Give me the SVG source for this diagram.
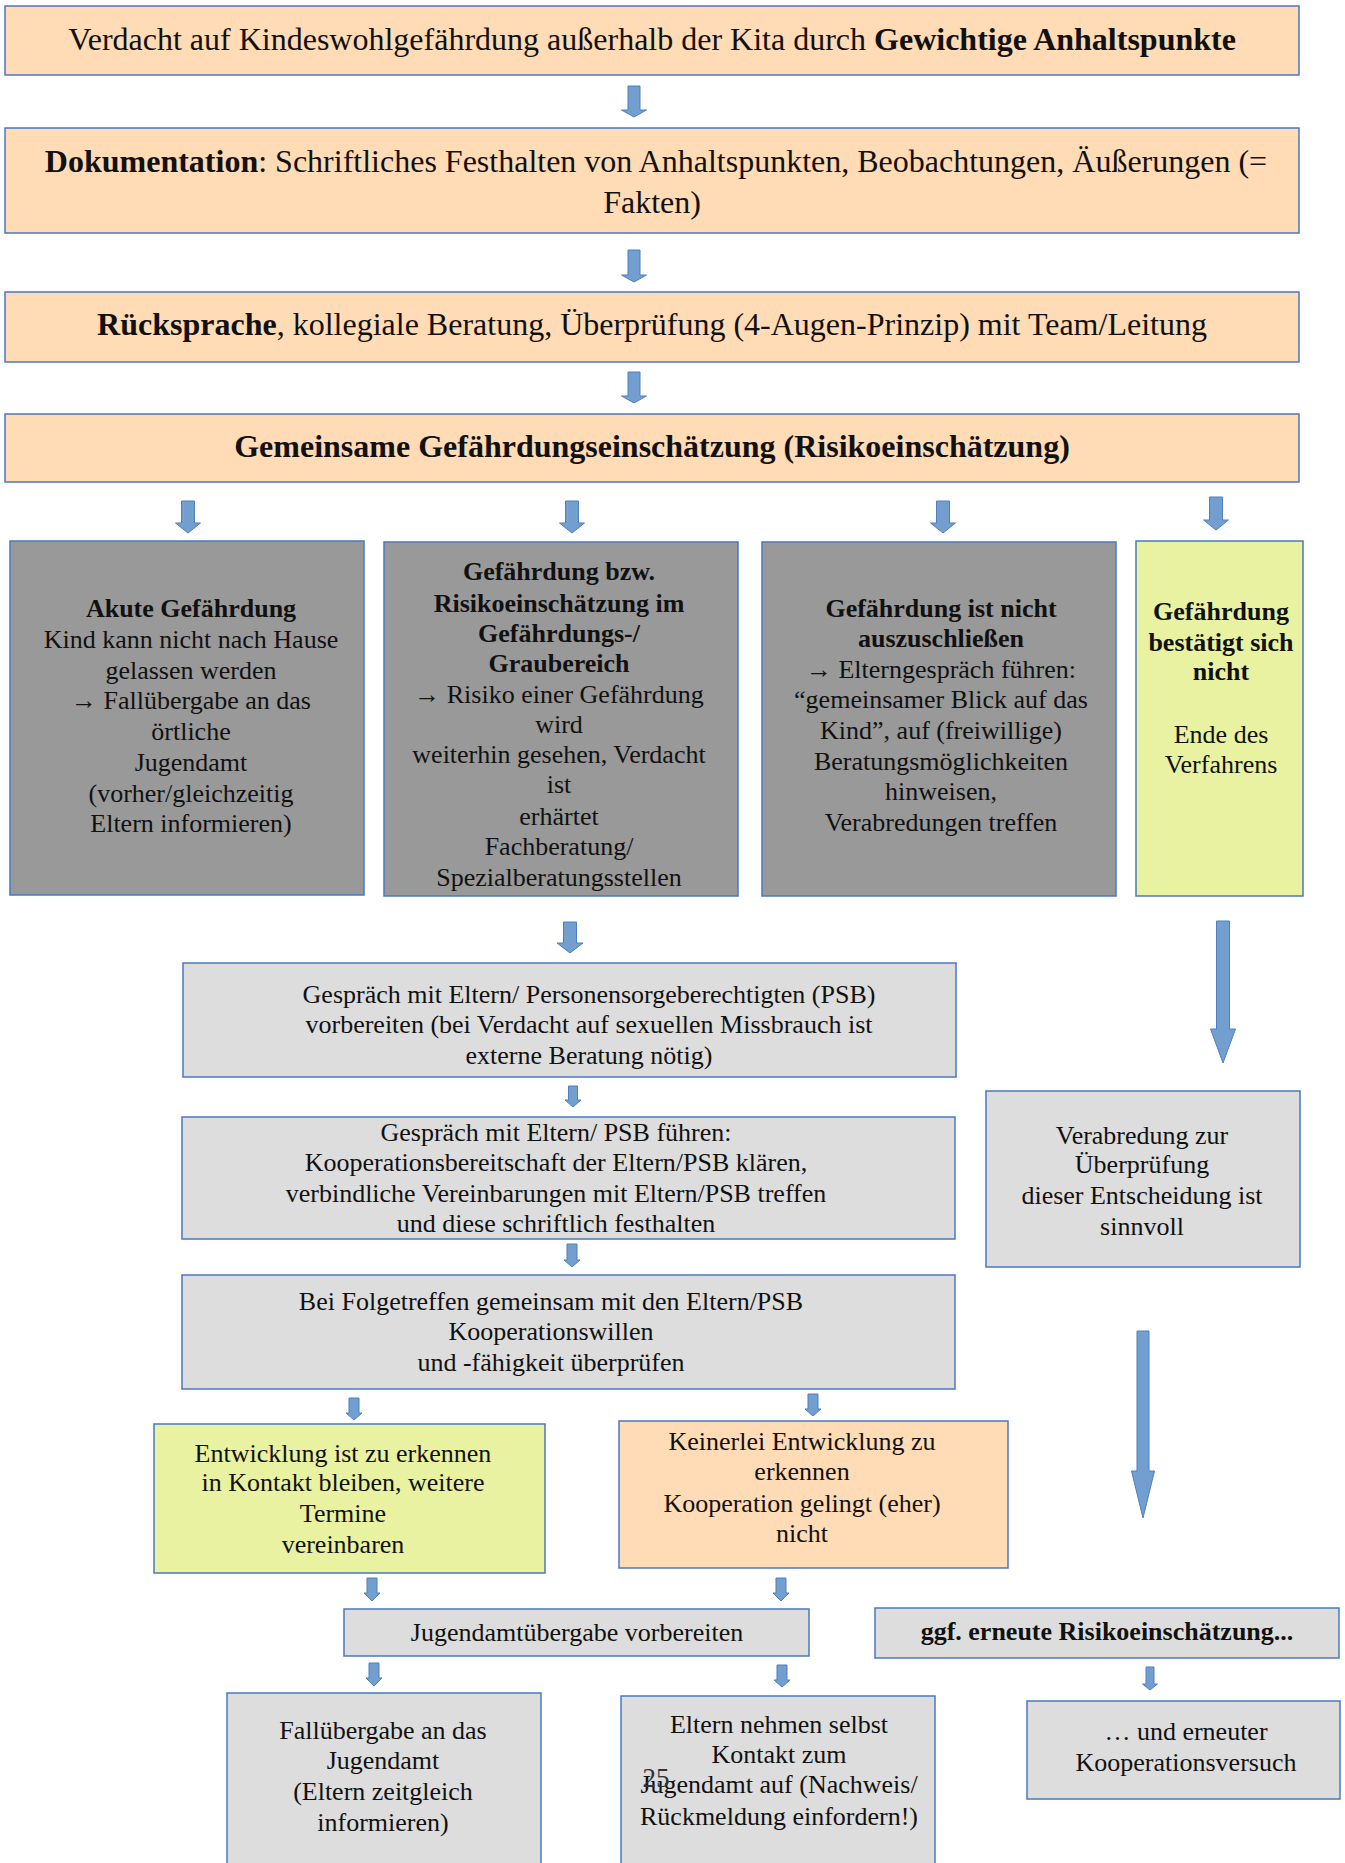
<svg xmlns="http://www.w3.org/2000/svg" width="1345" height="1863" viewBox="0 0 1345 1863">
<style>
.box{stroke:#4a78c0;stroke-width:1.5}
.o{fill:#ffdbb6}
.g{fill:#999999}
.l{fill:#dddddd}
.y{fill:#e8f2a1}
.arr{fill:#729fcf;stroke:#4f7fbf;stroke-width:1}
text{font-family:"Liberation Serif","Times New Roman",serif;font-size:26px;fill:#111;text-anchor:middle}
.big{font-size:32px}
.b{font-weight:bold}
</style>
<rect x="0" y="0" width="1345" height="1863" fill="#ffffff"/>

<g id="connectors">
<path class="arr" d="M628 86H640V110H646.5L634 117L621.5 110H628Z"/>
<path class="arr" d="M628 250H640V275H646.5L634 282L621.5 275H628Z"/>
<path class="arr" d="M628 372H640V396H646.5L634 403L621.5 396H628Z"/>
<path class="arr" d="M181.5 501H194.5V523H200.5L188 533L175.5 523H181.5Z"/>
<path class="arr" d="M565.5 501H578.5V523H584.5L572 533L559.5 523H565.5Z"/>
<path class="arr" d="M936.5 501H949.5V523H955.5L943 533L930.5 523H936.5Z"/>
<path class="arr" d="M1209.5 497H1222.5V520H1228.5L1216 530L1203.5 520H1209.5Z"/>
<path class="arr" d="M563.5 922H576.5V943H583L570 953L557 943H563.5Z"/>
<path class="arr" d="M568.5 1086H577.5V1100H581L573 1107L565 1100H568.5Z"/>
<path class="arr" d="M567 1244H577V1260H580L572 1267L564 1260H567Z"/>
<path class="arr" d="M349 1398H359V1413H362L354 1420L346 1413H349Z"/>
<path class="arr" d="M808 1394H818V1409H821L813 1416L805 1409H808Z"/>
<path class="arr" d="M367 1578H377V1593H380L372 1601L364 1593H367Z"/>
<path class="arr" d="M776 1578H786V1593H789L781 1601L773 1593H776Z"/>
<path class="arr" d="M369 1663H379V1678H382L374 1686L366 1678H369Z"/>
<path class="arr" d="M777 1665H787V1680H790L782 1687L774 1680H777Z"/>
<path class="arr" d="M1146 1667H1154V1684H1157.5L1150 1690L1142.5 1684H1146Z"/>
<path class="arr" d="M1216.5 921H1229.5V1029H1235.5L1223 1063L1210.5 1029H1216.5Z"/>
<path class="arr" d="M1137 1331H1149V1471H1154.5L1143 1518L1131.5 1471H1137Z"/>
</g>

<g id="n1">
<rect class="box o" x="5" y="6" width="1294" height="69"/>
<text class="big" x="652" y="50">Verdacht auf Kindeswohlgefährdung außerhalb der Kita durch <tspan class="b">Gewichtige Anhaltspunkte</tspan></text>
</g>
<g id="n2">
<rect class="box o" x="5" y="128" width="1294" height="105"/>
<text class="big" x="656" y="172"><tspan class="b">Dokumentation</tspan>: Schriftliches Festhalten von Anhaltspunkten, Beobachtungen, Äußerungen (=</text>
<text class="big" x="652" y="213">Fakten)</text>
</g>
<g id="n3">
<rect class="box o" x="5" y="292" width="1294" height="70"/>
<text class="big" x="652" y="335"><tspan class="b">Rücksprache</tspan>, kollegiale Beratung, Überprüfung (4-Augen-Prinzip) mit Team/Leitung</text>
</g>
<g id="n4">
<rect class="box o" x="5" y="414" width="1294" height="68"/>
<text class="big b" x="652" y="457">Gemeinsame Gefährdungseinschätzung (Risikoeinschätzung)</text>
</g>

<g id="nA">
<rect class="box g" x="10" y="541" width="354" height="354"/>
<text x="191" y="617" class="b">Akute Gefährdung</text>
<text x="191" y="648">Kind kann nicht nach Hause</text>
<text x="191" y="679">gelassen werden</text>
<text x="191" y="709">→ Fallübergabe an das</text>
<text x="191" y="740">örtliche</text>
<text x="191" y="771">Jugendamt</text>
<text x="191" y="802">(vorher/gleichzeitig</text>
<text x="191" y="832">Eltern informieren)</text>
</g>
<g id="nB">
<rect class="box g" x="384" y="542" width="354" height="354"/>
<text x="559" y="580" class="b">Gefährdung bzw.</text>
<text x="559" y="612" class="b">Risikoeinschätzung im</text>
<text x="559" y="642" class="b">Gefährdungs-/</text>
<text x="559" y="672" class="b">Graubereich</text>
<text x="559" y="703">→ Risiko einer Gefährdung</text>
<text x="559" y="733">wird</text>
<text x="559" y="763">weiterhin gesehen, Verdacht</text>
<text x="559" y="793">ist</text>
<text x="559" y="825">erhärtet</text>
<text x="559" y="855">Fachberatung/</text>
<text x="559" y="886">Spezialberatungsstellen</text>
</g>
<g id="nC">
<rect class="box g" x="762" y="542" width="354" height="354"/>
<text x="941" y="617" class="b">Gefährdung ist nicht</text>
<text x="941" y="647" class="b">auszuschließen</text>
<text x="941" y="678">→ Elterngespräch führen:</text>
<text x="941" y="708">“gemeinsamer Blick auf das</text>
<text x="941" y="739">Kind”, auf (freiwillige)</text>
<text x="941" y="770">Beratungsmöglichkeiten</text>
<text x="941" y="800">hinweisen,</text>
<text x="941" y="831">Verabredungen treffen</text>
</g>
<g id="nD">
<rect class="box y" x="1136" y="541" width="167" height="355"/>
<text x="1221" y="620" class="b">Gefährdung</text>
<text x="1221" y="651" class="b">bestätigt sich</text>
<text x="1221" y="680" class="b">nicht</text>
<text x="1221" y="743">Ende des</text>
<text x="1221" y="773">Verfahrens</text>
</g>

<g id="nE">
<rect class="box l" x="183" y="963" width="773" height="114"/>
<text x="589" y="1003">Gespräch mit Eltern/ Personensorgeberechtigten (PSB)</text>
<text x="589" y="1033">vorbereiten (bei Verdacht auf sexuellen Missbrauch ist</text>
<text x="589" y="1064">externe Beratung nötig)</text>
</g>
<g id="nF">
<rect class="box l" x="182" y="1117" width="773" height="122"/>
<text x="556" y="1141">Gespräch mit Eltern/ PSB führen:</text>
<text x="556" y="1171">Kooperationsbereitschaft der Eltern/PSB klären,</text>
<text x="556" y="1202">verbindliche Vereinbarungen mit Eltern/PSB treffen</text>
<text x="556" y="1232">und diese schriftlich festhalten</text>
</g>
<g id="nG">
<rect class="box l" x="182" y="1275" width="773" height="114"/>
<text x="551" y="1310">Bei Folgetreffen gemeinsam mit den Eltern/PSB</text>
<text x="551" y="1340">Kooperationswillen</text>
<text x="551" y="1371">und -fähigkeit überprüfen</text>
</g>
<g id="nO">
<rect class="box l" x="986" y="1091" width="314" height="176"/>
<text x="1142" y="1144">Verabredung zur</text>
<text x="1142" y="1173">Überprüfung</text>
<text x="1142" y="1204">dieser Entscheidung ist</text>
<text x="1142" y="1235">sinnvoll</text>
</g>

<g id="nH">
<rect class="box y" x="154" y="1424" width="391" height="149"/>
<text x="343" y="1462">Entwicklung ist zu erkennen</text>
<text x="343" y="1491">in Kontakt bleiben, weitere</text>
<text x="343" y="1522">Termine</text>
<text x="343" y="1553">vereinbaren</text>
</g>
<g id="nI">
<rect class="box o" x="619" y="1421" width="389" height="147"/>
<text x="802" y="1450">Keinerlei Entwicklung zu</text>
<text x="802" y="1480">erkennen</text>
<text x="802" y="1512">Kooperation gelingt (eher)</text>
<text x="802" y="1542">nicht</text>
</g>
<g id="nJ">
<rect class="box l" x="344" y="1609" width="465" height="47"/>
<text x="577" y="1641">Jugendamtübergabe vorbereiten</text>
</g>
<g id="nK">
<rect class="box l" x="875" y="1608" width="464" height="50"/>
<text x="1107" y="1640" class="b">ggf. erneute Risikoeinschätzung...</text>
</g>
<g id="nL">
<rect class="box l" x="1027" y="1701" width="313" height="98"/>
<text x="1186" y="1740">… und erneuter</text>
<text x="1186" y="1771">Kooperationsversuch</text>
</g>
<g id="nM">
<rect class="box l" x="227" y="1693" width="314" height="175"/>
<text x="383" y="1739">Fallübergabe an das</text>
<text x="383" y="1769">Jugendamt</text>
<text x="383" y="1800">(Eltern zeitgleich</text>
<text x="383" y="1831">informieren)</text>
</g>
<g id="nN">
<rect class="box l" x="621" y="1696" width="314" height="172"/>
<text x="779" y="1733">Eltern nehmen selbst</text>
<text x="779" y="1763">Kontakt zum</text>
<text x="779" y="1793">Jugendamt auf (Nachweis/</text>
<text x="779" y="1825">Rückmeldung einfordern!)</text>
</g>
<text x="656" y="1787" style="font-size:27px;fill:#333">25</text>
</svg>
